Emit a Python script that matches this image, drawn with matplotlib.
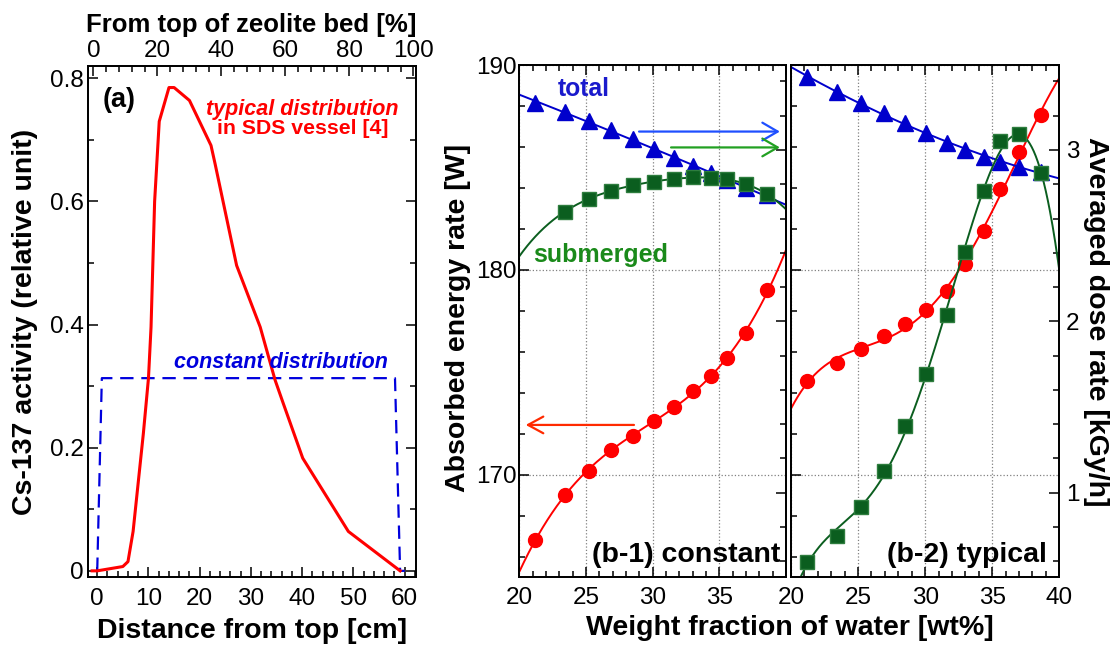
import numpy as np
import matplotlib
matplotlib.use('Agg')
import matplotlib.pyplot as plt
from matplotlib.ticker import MultipleLocator, FuncFormatter

plt.rcParams['font.family'] = ['Liberation Sans', 'DejaVu Sans']
plt.rcParams['axes.linewidth'] = 1.3

# ---------------- data: panel (a) ----------------
dist_cm = [-1, 0, 5, 6, 7, 9, 10, 10.5, 11.2, 12.1, 14, 15, 18, 22.2, 23, 27.2, 31.8,
           34.7, 36.3, 40.1, 49, 59.1]
typical_act = [0, 0, 0.007, 0.015, 0.064, 0.223, 0.313, 0.396, 0.60, 0.73, 0.785, 0.785,
               0.764, 0.691, 0.661, 0.496, 0.396, 0.31, 0.272, 0.183, 0.064, 0.0]
const_cm = [0, 0.9, 58.1, 59.1, 60]
const_act = [0, 0.313, 0.313, 0, 0]

# ---------------- data: panel (b) ----------------
water_wt = [21.2, 23.4, 25.2, 26.9, 28.5, 30.1, 31.6, 33.0, 34.4, 35.6, 37.0, 38.6]
b1_absorbed = [166.8, 169.0, 170.2, 171.2, 171.9, 172.6, 173.3, 174.1, 174.8, 175.7, 176.9, 179.0]
b1_total = [3.276, 3.224, 3.169, 3.117, 3.062, 3.004, 2.952, 2.907, 2.867, 2.825, 2.776, 2.737]
b1_sub_wt = water_wt[1:]
b1_sub = [2.640, 2.714, 2.761, 2.796, 2.815, 2.829, 2.841, 2.838, 2.829, 2.800, 2.741]
b2_absorbed = [174.56, 175.45, 176.12, 176.76, 177.34, 178.03, 178.97, 180.27, 181.89,
               183.94, 185.76, 187.56]
b2_total = [3.424, 3.340, 3.276, 3.214, 3.156, 3.097, 3.043, 3.000, 2.961, 2.932, 2.903, 2.872]
b2_sub = [0.597, 0.748, 0.914, 1.128, 1.389, 1.692, 2.037, 2.406, 2.762, 3.053, 3.093, 2.867]

RED = '#ff0000'
BLUE = '#0000cc'
GREEN_M = '#0b5e1f'
GREEN_T = '#1a8a1a'

W, H = 1117, 645
fig = plt.figure(figsize=(W / 100, H / 100), dpi=100)


def rect(l, t, r, b):
    return [l / W, 1 - b / H, (r - l) / W, (b - t) / H]


TICK_FS = 17.5
LAB_FS = 20.5

# ---------------- panel (a) ----------------
axa = fig.add_axes(rect(88, 66, 416, 577))
axa.plot(dist_cm, typical_act, color=RED, lw=2.2, zorder=3)
axa.plot(const_cm, const_act, color='#0000dd', lw=1.6, ls=(0, (6, 3.5)), zorder=2)
axa.set_xlim(-1.8, 62.2)
axa.set_ylim(-0.01, 0.82)
axa.xaxis.set_major_locator(MultipleLocator(10))
axa.xaxis.set_minor_locator(MultipleLocator(2))
axa.yaxis.set_major_locator(MultipleLocator(0.2))
axa.yaxis.set_minor_locator(MultipleLocator(0.1))
axa.yaxis.set_major_formatter(FuncFormatter(lambda v, p: '0' if abs(v) < 1e-9 else f'{v:.1f}'))
axa.tick_params(which='both', direction='in', top=False, right=True, labelsize=TICK_FS, width=1.1)
axa.tick_params(which='major', length=7)
axa.tick_params(which='minor', length=4)
axa.tick_params(axis='x', which='major', pad=8)
axa.tick_params(axis='y', which='major', pad=3)

axt = axa.twiny()
axt.set_xlim(-1.7, 100.8)
axt.xaxis.set_major_locator(MultipleLocator(20))
axt.xaxis.set_minor_locator(MultipleLocator(4))
axt.tick_params(which='both', direction='in', top=True, bottom=False, labeltop=True,
                labelbottom=False, labelsize=TICK_FS, width=1.1, pad=3)
axt.tick_params(which='major', length=7)
axt.tick_params(which='minor', length=4)

axa.text(0.046, 0.920, '(a)', transform=axa.transAxes, fontsize=19.5, fontweight='bold',
         ha='left', va='baseline')
axa.text(0.652, 0.905, 'typical distribution', transform=axa.transAxes, fontsize=15.5,
         fontweight='bold', fontstyle='italic', color=RED, ha='center', va='baseline')
axa.text(0.655, 0.866, 'in SDS vessel [4]', transform=axa.transAxes, fontsize=15.3,
         fontweight='bold', color=RED, ha='center', va='baseline')
axa.text(0.588, 0.4096, 'constant distribution', transform=axa.transAxes, fontsize=15.5,
         fontweight='bold', fontstyle='italic', color='#0000dd', ha='center', va='baseline')

fig.text(25 / W, 1 - 322 / H, 'Cs-137 activity (relative unit)', rotation=90, fontsize=LAB_FS,
         fontweight='bold', ha='center', va='center')
fig.text(251.7 / W, 1 - 638 / H, 'Distance from top [cm]', fontsize=LAB_FS, fontweight='bold',
         ha='center', va='baseline')
fig.text(251.7 / W, 1 - 31.7 / H, 'From top of zeolite bed [%]', fontsize=18.5, fontweight='bold',
         ha='center', va='baseline')

# ---------------- panel (b) ----------------
xs = np.linspace(20, 40, 400)


def setup_b(ax, axr, left_labels, right_labels, hide40):
    ax.set_xlim(20, 40)
    ax.set_ylim(165, 190)
    axr.set_ylim(0.508, 3.496)
    ax.xaxis.set_major_locator(MultipleLocator(5))
    ax.xaxis.set_minor_locator(MultipleLocator(1))
    ax.yaxis.set_major_locator(MultipleLocator(10))
    ax.yaxis.set_minor_locator(MultipleLocator(2))
    axr.yaxis.set_major_locator(MultipleLocator(1))
    axr.yaxis.set_minor_locator(MultipleLocator(0.2))
    if hide40:
        ax.xaxis.set_major_formatter(FuncFormatter(lambda v, p: '' if v > 39 else f'{v:.0f}'))
    ax.set_axisbelow(True)
    ax.grid(which='major', ls=':', color='#808080', lw=0.9)
    ax.tick_params(which='both', direction='in', top=True, right=False, left=True,
                   labelleft=left_labels, labelsize=TICK_FS, width=1.1)
    ax.tick_params(which='major', length=7)
    ax.tick_params(which='minor', length=4)
    ax.tick_params(axis='x', which='major', pad=7)
    ax.tick_params(axis='y', which='major', pad=2)
    axr.tick_params(which='both', direction='in', right=True, labelright=right_labels,
                    labelsize=TICK_FS, width=1.1)
    axr.tick_params(which='major', length=7, pad=5)
    axr.tick_params(which='minor', length=4)


def fit(x, y, deg):
    return np.polyval(np.polyfit(x, y, deg), xs)


MS_O, MS_T, MS_S = 10, 11, 10.5

ax1 = fig.add_axes(rect(519.3, 65, 786, 577))
ax1r = ax1.twinx()
setup_b(ax1, ax1r, True, False, True)
ax1.plot(xs, fit(water_wt, b1_absorbed, 3), color=RED, lw=1.4)
ax1.plot(water_wt, b1_absorbed, 'o', color=RED, ms=MS_O, mec=RED)
ax1r.plot(xs, fit(water_wt, b1_total, 2), color=BLUE, lw=1.4)
ax1r.plot(water_wt, b1_total, '^', color=BLUE, ms=MS_T, mec=BLUE)
ax1r.plot(xs, fit(b1_sub_wt, b1_sub, 4), color=GREEN_M, lw=1.4)
ax1r.plot(b1_sub_wt, b1_sub, 's', color=GREEN_M, ms=MS_S, mec='#2e7d3e')

ax1r.annotate('', xy=(0.977, 0.870), xytext=(0.449, 0.870), xycoords='axes fraction',
              arrowprops=dict(arrowstyle='->,head_length=0.55,head_width=0.32',
                              color='#1f4fff', lw=1.6, mutation_scale=20, shrinkA=0, shrinkB=0))
ax1r.annotate('', xy=(0.977, 0.839), xytext=(0.569, 0.839), xycoords='axes fraction',
              arrowprops=dict(arrowstyle='->,head_length=0.55,head_width=0.32',
                              color='#22a022', lw=1.6, mutation_scale=20, shrinkA=0, shrinkB=0))
ax1r.annotate('', xy=(0.024, 0.297), xytext=(0.430, 0.297), xycoords='axes fraction',
              arrowprops=dict(arrowstyle='->,head_length=0.55,head_width=0.3',
                              color='#ff2a00', lw=1.6, mutation_scale=20, shrinkA=0, shrinkB=0))

ax1r.text(0.243, 0.939, 'total', transform=ax1.transAxes, fontsize=17.8, fontweight='bold',
          color='#1a1acc', ha='center', va='baseline')
ax1r.text(0.306, 0.616, 'submerged', transform=ax1.transAxes, fontsize=18, fontweight='bold',
          color=GREEN_T, ha='center', va='baseline')
ax1r.text(0.979, 0.030, '(b-1) constant', transform=ax1.transAxes, fontsize=LAB_FS,
          fontweight='bold', ha='right', va='baseline')

ax2 = fig.add_axes(rect(791, 65, 1059.3, 577))
ax2r = ax2.twinx()
setup_b(ax2, ax2r, False, True, False)
ax2.plot(xs, fit(water_wt, b2_absorbed, 4), color=RED, lw=1.4)
ax2.plot(water_wt, b2_absorbed, 'o', color=RED, ms=MS_O, mec=RED)
ax2r.plot(xs, fit(water_wt, b2_total, 2), color=BLUE, lw=1.4)
ax2r.plot(water_wt, b2_total, '^', color=BLUE, ms=MS_T, mec=BLUE)
ax2r.plot(xs, fit(water_wt, b2_sub, 4), color=GREEN_M, lw=1.4)
ax2r.plot(water_wt, b2_sub, 's', color=GREEN_M, ms=MS_S, mec='#2e7d3e')
ax2r.text(0.954, 0.030, '(b-2) typical', transform=ax2.transAxes, fontsize=LAB_FS,
          fontweight='bold', ha='right', va='baseline')

fig.text(458 / W, 1 - 318 / H, 'Absorbed energy rate [W]', rotation=90, fontsize=LAB_FS,
         fontweight='bold', ha='center', va='center')
fig.text(1096 / W, 1 - 321.5 / H, 'Averaged dose rate [kGy/h]', rotation=270, fontsize=LAB_FS,
         fontweight='bold', ha='center', va='center')
fig.text(790 / W, 1 - 635 / H, 'Weight fraction of water [wt%]', fontsize=LAB_FS,
         fontweight='bold', ha='center', va='baseline')

fig.savefig('out.png', dpi=100)
